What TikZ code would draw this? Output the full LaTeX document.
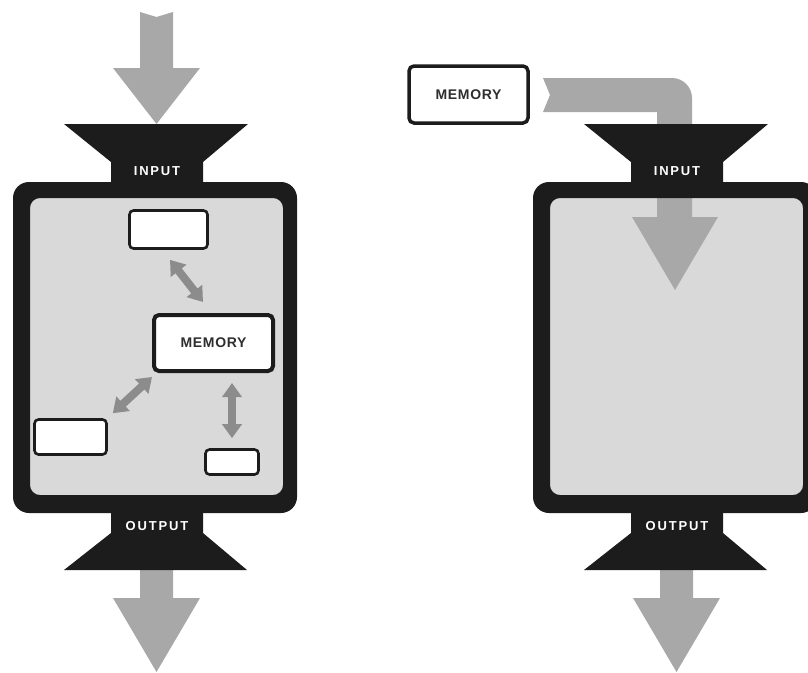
\documentclass[tikz,border=0pt]{standalone}
\usepackage{fontspec}
\setsansfont{Liberation Sans}
\usetikzlibrary{arrows.meta,calc}
\definecolor{frameblack}{HTML}{1C1C1C}
\definecolor{innergrey}{HTML}{D9D9D9}
\definecolor{flowgrey}{HTML}{A8A8A8}
\definecolor{linkgrey}{HTML}{8C8C8C}
\definecolor{memtext}{HTML}{2E2E2E}
\tikzset{
  frame/.style={fill=frameblack, even odd rule},
  inner/.style={fill=innergrey},
  flow/.style={fill=flowgrey},
  funnel/.style={fill=frameblack},
  portlabel/.style={text=white, font=\sffamily\bfseries\fontsize{13}{13}\selectfont\addfontfeatures{LetterSpace=14}},
  membox/.style={draw=frameblack, fill=white, line width=4pt, rounded corners=5pt, inner sep=0pt,
    minimum width=119pt, minimum height=56pt, text=memtext,
    font=\sffamily\bfseries\fontsize{14}{14}\selectfont\addfontfeatures{LetterSpace=5}},
  slot/.style={draw=frameblack, fill=white, line width=2.6pt, rounded corners=4pt, inner sep=0pt},
  link/.style={draw=linkgrey, line width=8pt,
    {Triangle[width=19pt,length=14pt]}-{Triangle[width=19pt,length=14pt]}}
}
\begin{document}
\begin{tikzpicture}[x=1pt,y=-1pt]
\useasboundingbox (0,0) rectangle (808,672);
\clip (0,0) rectangle (808,672);
\fill[white] (0,0) rectangle (808,672);

% ---------------- left unit ----------------
\fill[flow] (140,12) -- (156.5,17) -- (173,12) -- (173,68) -- (200,68) -- (156.5,124) -- (113,68) -- (140,68) -- cycle;
\fill[inner, rounded corners=10] (30,198) rectangle (283,495);
\fill[frame] [rounded corners=16] (13,182) rectangle (297,513) [rounded corners=10] (30,198) rectangle (283,495);
\fill[funnel] (64,124) -- (248,124) -- (203,162) -- (203,186) -- (111,186) -- (111,162) -- cycle;
\node[portlabel] (inL) at (157,171) {INPUT};
\fill[flow] (140,565) -- (173,565) -- (173,598) -- (200,598) -- (156.5,672) -- (113,598) -- (140,598) -- cycle;
\fill[funnel] (111,509) -- (203,509) -- (203,533) -- (247,570) -- (64,570) -- (111,533) -- cycle;
\node[portlabel] (outL) at (157,526) {OUTPUT};

\node[membox] (memL) at (213.5,343) {MEMORY};
\node[slot, minimum width=78pt, minimum height=38pt] (topbox) at (168.5,229.5) {};
\node[slot, minimum width=72pt, minimum height=35pt] (llbox) at (70.5,437) {};
\node[slot, minimum width=53pt, minimum height=25pt] (lrbox) at (232,462) {};

\draw[link] ($(topbox.south)+(1.5,10)$) -- ($(memL.north)+(-10.5,-11)$);
\draw[link] ($(llbox.north east)+(5,-5)$) -- ($(memL.south west)+(0,4)$);
\draw[link] ($(lrbox.north)+(0,-10)$) -- ($(lrbox.north |- memL.south)+(0,10)$);

% ---------------- right unit ----------------
\fill[inner, rounded corners=10] (550,198) rectangle (803,495);
\fill[flow] (543,78) -- (672,78) .. controls (683,78) and (692,87) .. (692,98) -- (692,217) -- (718,217) -- (675,290) -- (632,217) -- (657,217) -- (657,112) -- (543,112) -- (550,95) -- cycle;
\fill[frame] [rounded corners=16] (533,182) rectangle (817,513) [rounded corners=10] (550,198) rectangle (803,495);
\fill[funnel] (584,124) -- (768,124) -- (723,162) -- (723,186) -- (631,186) -- (631,162) -- cycle;
\node[portlabel] (inR) at (677,171) {INPUT};
\fill[flow] (660,565) -- (693,565) -- (693,598) -- (720,598) -- (676.5,672) -- (633,598) -- (660,598) -- cycle;
\fill[funnel] (631,509) -- (723,509) -- (723,533) -- (767,570) -- (584,570) -- (631,533) -- cycle;
\node[portlabel] (outR) at (677,526) {OUTPUT};

\node[membox, line width=3.5pt, minimum height=57pt] (memR) at (468.5,94.5) {MEMORY};
\end{tikzpicture}
\end{document}
